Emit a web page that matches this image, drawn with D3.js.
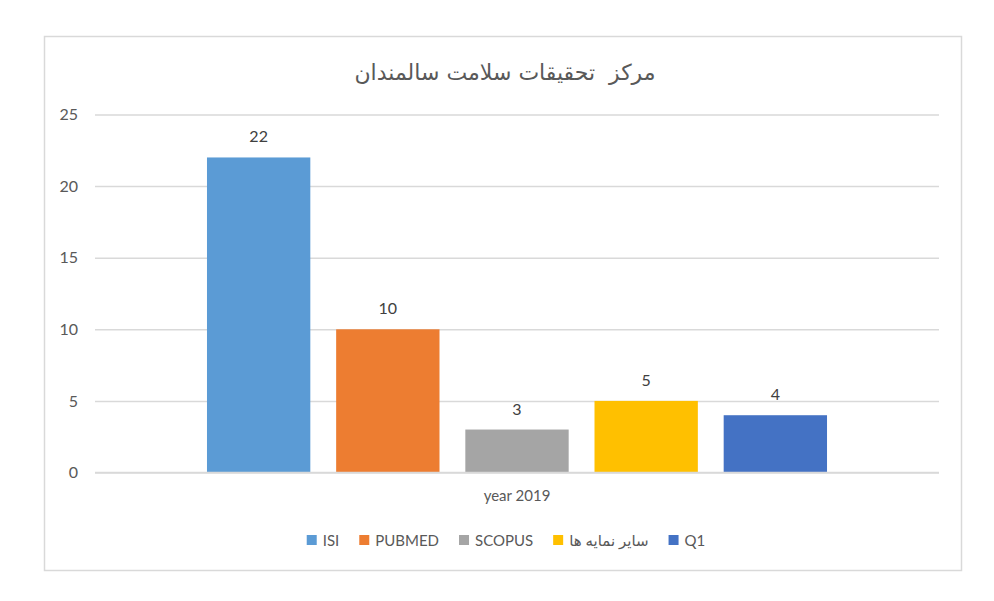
<!DOCTYPE html>
<html>
<head>
<meta charset="utf-8">
<script src="https://cdn.jsdelivr.net/npm/d3@7"></script>
<style>
  body { margin: 0; background: #fff; }
  svg text { font-family: Lato, "DejaVu Sans", sans-serif; fill: #595959; }
</style>
</head>
<body>
<div id="chart"></div>
<script>
var categories = ["year 2019"];
var seriesNames = ["ISI", "PUBMED", "SCOPUS", "سایر نمایه ها", "Q1"];
var seriesValues = [22, 10, 3, 5, 4];
var seriesColors = ["#5B9BD5", "#ED7D31", "#A5A5A5", "#FFC000", "#4472C4"];
var yTicks = [0, 5, 10, 15, 20, 25];
var title = "مرکز  تحقیقات سلامت سالمندان";

var width = 994, height = 601;
var plotLeft = 95, plotRight = 939, plotTop = 114.5, plotBottom = 472.5;

var svg = d3.select("#chart").append("svg")
  .attr("width", width)
  .attr("height", height);

// chart frame
svg.append("rect")
  .attr("x", 44.5).attr("y", 36.5)
  .attr("width", 917).attr("height", 534)
  .attr("fill", "#fff")
  .attr("stroke", "#d9d9d9")
  .attr("stroke-width", 1.5);

svg.append("text")
  .attr("x", 505).attr("y", 80)
  .attr("text-anchor", "middle")
  .style("white-space", "pre")
  .style("font-family", "'DejaVu Sans', sans-serif")
  .style("font-size", "22px")
  .text(title);

var y = d3.scaleLinear().domain([0, 25]).range([plotBottom, plotTop]);

var x0 = d3.scaleBand().domain(categories).range([plotLeft, plotRight])
  .paddingInner(0).paddingOuter(0.1806);
var x1 = d3.scaleBand().domain(seriesNames).range([0, x0.bandwidth()])
  .paddingInner(0.2).paddingOuter(0);

// gridlines + y labels
var yAxis = d3.axisLeft(y).tickValues(yTicks).tickSize(-(plotRight - plotLeft)).tickPadding(17);
var gy = svg.append("g").attr("transform", "translate(" + plotLeft + ",0)").call(yAxis);
gy.select(".domain").remove();
gy.selectAll(".tick line").attr("stroke", "#d9d9d9").attr("stroke-width", 1.5);
gy.selectAll(".tick text").style("font-size", "16px").style("font-family", "Lato, sans-serif").attr("fill", "#595959");

var rows = seriesNames.map(function (name, i) {
  return { name: name, value: seriesValues[i], color: seriesColors[i], cat: categories[0] };
});

svg.selectAll("rect.bar").data(rows).enter().append("rect")
  .attr("class", "bar")
  .attr("x", function (d) { return x0(d.cat) + x1(d.name); })
  .attr("y", function (d) { return y(d.value); })
  .attr("width", x1.bandwidth())
  .attr("height", function (d) { return y(0) - y(d.value); })
  .attr("fill", function (d) { return d.color; });

// baseline over bars
svg.append("line")
  .attr("x1", plotLeft).attr("x2", plotRight)
  .attr("y1", y(0)).attr("y2", y(0))
  .attr("stroke", "#d9d9d9").attr("stroke-width", 1.5);

svg.selectAll("text.lbl").data(rows).enter().append("text")
  .attr("class", "lbl")
  .attr("x", function (d) { return x0(d.cat) + x1(d.name) + x1.bandwidth() / 2; })
  .attr("y", function (d) { return y(d.value) - 15; })
  .attr("text-anchor", "middle")
  .style("font-size", "16px")
  .style("fill", "#404040")
  .text(function (d) { return d.value; });

// category label
svg.selectAll("text.cat").data(categories).enter().append("text")
  .attr("class", "cat")
  .attr("x", function (d) { return x0(d) + x0.bandwidth() / 2; })
  .attr("y", 501)
  .attr("text-anchor", "middle")
  .style("font-size", "15px")
  .text(function (d) { return d; });

// legend, centred
var legend = svg.append("g");
var items = legend.selectAll("g").data(rows).enter().append("g");
items.append("rect").attr("width", 10).attr("height", 10).attr("y", -5)
  .attr("fill", function (d) { return d.color; });
items.append("text").attr("x", 16).attr("y", 5.5)
  .style("font-size", "15px")
  .text(function (d) { return d.name; });
var pos = 0, gap = 20;
items.each(function () {
  var w = this.getBBox().width;
  d3.select(this).attr("transform", "translate(" + pos + ",0)");
  pos += w + gap;
});
pos -= gap;
legend.attr("transform", "translate(" + (506 - pos / 2) + ",540)");
</script>
</body>
</html>
